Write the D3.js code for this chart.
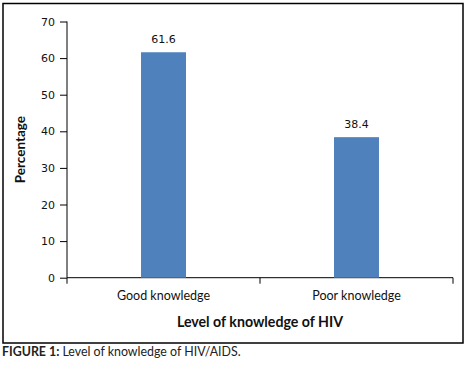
<!DOCTYPE html>
<html>
<head>
<meta charset="utf-8">
<script src="https://cdn.jsdelivr.net/npm/d3@7"></script>
<style>
  body { margin: 0; background: #fff; }
  svg { display: block; }
</style>
</head>
<body>
<div id="chart"></div>
<script>
const categories = ["Good knowledge", "Poor knowledge"];
const values = [61.6, 38.4];
const yTicks = [0, 10, 20, 30, 40, 50, 60, 70];

const width = 470, height = 371;
const margin = {top: 21.5, right: 17, bottom: 93.3, left: 67};

const svg = d3.select("#chart")
    .append("svg")
    .attr("width", width)
    .attr("height", height);

// outer frame
svg.append("rect")
    .attr("x", 3).attr("y", 3.5)
    .attr("width", 460).attr("height", 339.5)
    .attr("fill", "none")
    .attr("stroke", "#000")
    .attr("stroke-width", 1.5);

const x = d3.scaleBand()
    .domain(categories)
    .range([margin.left, width - margin.right]);

const y = d3.scaleLinear()
    .domain([0, 70])
    .range([height - margin.bottom, margin.top]);

const barW = x.bandwidth() * 0.233;

// y axis
svg.append("g")
    .attr("transform", `translate(${margin.left},0)`)
    .call(d3.axisLeft(y).tickValues(yTicks).tickSize(7).tickPadding(5))
    .call(g => g.selectAll("line, path").attr("stroke", "#000"))
    .call(g => g.select(".domain").attr("d", `M0,${y(70)}V${y(0)}`))
    .call(g => g.selectAll("text")
        .attr("font-family", "DejaVu Sans")
        .attr("font-size", 11)
        .attr("fill", "#111"));

// x axis
const xAxis = svg.append("g")
    .attr("transform", `translate(0,${y(0)})`);
xAxis.append("line")
    .attr("x1", x.range()[0]).attr("x2", x.range()[1])
    .attr("stroke", "#000");
const bounds = categories.map(d => x(d)).concat([x.range()[1]]);
xAxis.selectAll(".tick")
    .data(bounds)
    .join("line")
    .attr("x1", d => d).attr("x2", d => d)
    .attr("y1", 0).attr("y2", 6)
    .attr("stroke", "#000");
xAxis.selectAll(".lbl")
    .data(categories)
    .join("text")
    .attr("x", d => x(d) + x.bandwidth() / 2)
    .attr("y", 22.5)
    .attr("text-anchor", "middle")
    .attr("font-family", "Lato")
    .attr("font-size", 12.5)
    .attr("fill", "#111")
    .text(d => d);

// bars
const bar = svg.selectAll(".bar")
    .data(values)
    .join("g")
    .attr("class", "bar");

bar.append("rect")
    .attr("fill", "#4f81bd")
    .attr("x", (d, i) => x(categories[i]) + x.bandwidth() / 2 - barW / 2)
    .attr("width", barW)
    .attr("y", d => y(d))
    .attr("height", d => y(0) - y(d));

bar.append("text")
    .text(d => d.toFixed(1))
    .attr("x", (d, i) => x(categories[i]) + x.bandwidth() / 2)
    .attr("y", d => y(d) - 9)
    .attr("text-anchor", "middle")
    .attr("font-family", "DejaVu Sans")
    .attr("font-size", 11)
    .attr("fill", "#111");

// axis titles
svg.append("text")
    .attr("x", (x.range()[0] + x.range()[1]) / 2)
    .attr("y", 327)
    .attr("text-anchor", "middle")
    .attr("font-family", "Lato")
    .attr("font-weight", "bold")
    .attr("font-size", 14.2)
    .attr("fill", "#111")
    .text("Level of knowledge of HIV");

svg.append("text")
    .attr("transform", `translate(25,${(y(0) + y(70)) / 2}) rotate(-90)`)
    .attr("text-anchor", "middle")
    .attr("font-family", "Lato")
    .attr("font-weight", "bold")
    .attr("font-size", 13.5)
    .attr("fill", "#111")
    .text("Percentage");

// caption
const cap = svg.append("text")
    .attr("x", 2)
    .attr("y", 356)
    .attr("font-family", "Lato")
    .attr("font-size", 12.4)
    .attr("fill", "#222");
cap.append("tspan").attr("font-weight", "bold").text("FIGURE 1: ");
cap.append("tspan").text("Level of knowledge of HIV/AIDS.");
</script>
</body>
</html>
